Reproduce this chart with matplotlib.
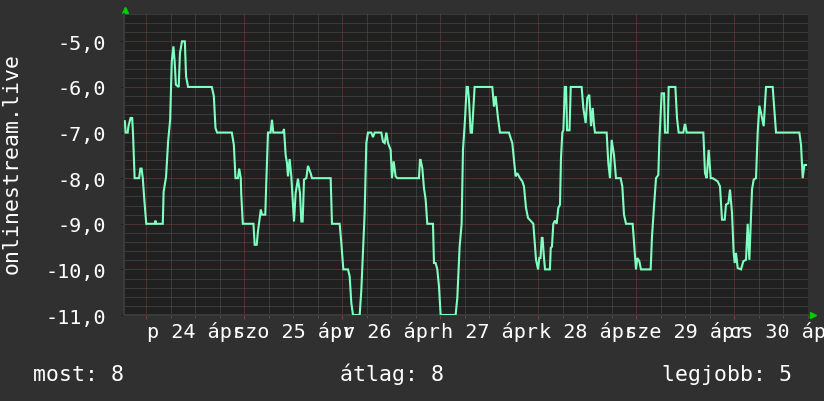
import matplotlib
matplotlib.use('Agg')
import matplotlib.pyplot as plt
import matplotlib.transforms as mtransforms
from matplotlib.ticker import MultipleLocator, FuncFormatter

# hours since apr 24 00:00 and the plotted value
times = [-5.3, -5.1, -4.6, -4.4, -3.9, -3.5, -3.3, -2.9, -1.8, -1.5, -1.2, -0.9, -0.5, -0.05,
         2.0, 2.2, 2.4, 4.0, 4.2, 4.8, 5.3, 5.8, 6.2, 6.6, 6.9, 7.2, 7.9, 8.2, 8.7, 9.4, 9.7,
         10.2, 16.0, 16.5, 16.9, 17.3, 20.9, 21.4, 21.8, 22.4, 22.7, 23.1, 23.2, 23.6, 26.2,
         26.5, 27.0,
         27.3, 27.7, 28.0, 28.3, 29.1, 29.35, 29.76, 30.4, 30.74, 31.06, 33.43, 33.68, 34.08,
         34.41, 34.66, 35.06, 35.47, 36.13, 36.53, 37.1, 37.6, 37.92, 38.25, 38.58, 39.15,
         39.55, 40.21, 40.53, 45.11, 45.43, 47.31, 47.72, 48.21, 49.35, 49.76, 50.17, 50.58,
         52.21, 52.62, 53.1, 53.43, 53.84, 54.25, 55.06, 55.47, 55.88, 57.51, 57.92, 58.33,
         58.74, 59.15, 59.8, 60.12, 60.53,
         61.02, 61.43, 66.73, 66.98, 67.14, 67.55, 67.96, 68.37, 68.77, 70.16, 70.41, 70.81,
         71.22, 71.63, 72.04, 75.71, 76.12, 76.69, 77.18, 77.51, 78.0, 78.41, 78.7, 78.98,
         79.38, 79.71, 80.36, 84.69, 85.1, 85.51, 86.08, 86.57, 88.77, 89.18, 89.59, 89.99,
         90.4, 90.81, 91.47, 92.04, 92.45, 92.94, 93.43,
         94.74, 95.4, 95.9, 96.2, 96.5, 96.8, 97.0, 97.35, 97.6, 98.8, 99.0, 99.3, 99.63,
         100.04, 100.45, 100.86, 101.27, 101.51, 101.84, 102.1, 102.45, 102.75, 103.0, 103.6,
         103.9, 106.57, 106.98, 107.55, 107.96, 108.45, 108.86, 109.27, 109.59, 109.84,
         112.69, 113.1, 113.51, 113.92, 114.49, 114.98, 116.12, 116.53, 116.94, 117.43,
         119.06, 119.47, 119.88, 120.2, 120.69, 121.1, 123.47, 123.8, 124.29, 124.78, 125.35,
         125.59, 126.16, 126.74, 126.98,
         127.64, 127.88, 129.52, 129.92, 130.33, 131.47, 131.8, 131.96, 132.29, 136.37,
         136.78, 137.19, 137.68, 138.17, 138.66, 139.88, 140.45, 140.94, 141.6, 141.92,
         142.5, 142.9, 143.39, 143.8, 144.05, 144.37, 144.78, 145.6, 146.17, 146.82, 147.23,
         147.64, 148.29, 148.7, 149.27, 149.68, 150.09, 150.5, 151.15, 151.72, 153.35,
         153.76, 154.17, 159.88, 160.29, 160.7, 161.11, 161.52]
values = [-6.75, -7.0, -7.0, -6.86, -6.68, -6.68, -7.0, -8.0, -8.0, -7.79, -7.79, -8.0, -8.5, -9.0,
          -9.0, -8.93, -9.0, -9.0, -8.3, -7.97, -7.2, -6.72, -5.44, -5.11, -5.44, -5.95, -6.0,
          -5.26, -5.0, -5.0, -5.77, -6.0, -6.0, -6.2, -6.9, -7.0, -7.0, -7.27, -8.0, -8.0,
          -7.79, -8.0, -8.33, -9.0, -9.0, -9.46, -9.46,
          -9.17, -8.9, -8.69, -8.8, -8.8, -8.07, -7.0, -7.0, -6.72, -7.0, -7.0, -6.92, -7.49,
          -7.67, -7.96, -7.58, -7.96, -8.95, -8.33, -8.01, -8.33, -8.95, -8.95, -8.03, -8.0,
          -7.73, -7.89, -8.0, -8.0, -9.0, -9.0, -9.42, -10.0, -10.0, -10.15, -10.74, -11.0,
          -11.0, -10.45, -9.42, -8.76, -7.23, -7.0, -7.0, -7.1, -7.0, -7.0, -7.2, -7.23,
          -7.0, -7.23, -7.38, -8.0, -7.63,
          -7.96, -8.0, -8.0, -7.6, -7.6, -7.78, -8.22, -8.47, -9.0, -9.0, -9.86, -9.86,
          -10.0, -10.37, -11.0, -11.0, -10.63, -9.5, -9.0, -7.38, -6.72, -6.0, -6.0, -6.28,
          -7.0, -7.0, -6.0, -6.0, -6.43, -6.2, -6.68, -7.0, -7.0, -7.12, -7.23, -7.6,
          -7.96, -7.89, -8.0, -8.07, -8.18, -8.65, -8.87,
          -9.0, -9.79, -10.0, -9.75, -9.75, -9.31, -9.31, -9.75, -10.0, -10.0, -9.53, -9.5, -9.0,
          -8.93, -9.0, -8.65, -8.58, -7.56, -7.0, -6.95, -6.0, -6.0, -6.95, -6.95,
          -6.0, -6.0, -6.46, -6.79, -6.24, -6.17, -6.86, -6.46, -6.83, -7.0,
          -7.0, -7.67, -8.0, -7.16, -7.49, -8.0, -8.0, -8.18, -8.8, -9.0,
          -9.0, -9.5, -10.0, -9.75, -9.82, -10.0, -10.0, -9.28, -8.62, -8.0, -7.93,
          -7.2, -6.14, -6.14, -7.0,
          -7.0, -6.0, -6.0, -6.68, -7.0, -7.0, -6.83, -6.83, -7.0, -7.0,
          -7.89, -8.0, -7.38, -8.0, -8.0, -8.07, -8.18, -8.91, -8.91, -8.58,
          -8.55, -8.25, -8.76, -9.64, -9.86, -9.64, -9.97, -10.0, -9.82, -9.79, -9.0,
          -9.79, -8.25, -8.03, -8.0, -7.0, -6.41, -6.57, -6.86, -6.0, -6.0,
          -6.5, -7.0, -7.0, -7.27, -8.0, -7.71, -7.71]

day_names = ['p', 'szo', 'v', 'h', 'k', 'sze', 'cs']
day_nums = [24, 25, 26, 27, 28, 29, 30]
month = 'ápr'
series_name = 'onlinestream.live'
legend_labels = ['most', 'átlag', 'legjobb']
legend_values = [8, 8, 5]

BG = '#303030'
CANVAS = '#202020'
MINOR = '#555555'
MAJOR = '#7a4040'
LINE = '#80ffc0'
ARROW = '#00cc00'
FONT = 'DejaVu Sans Mono'

plt.rcParams['font.family'] = FONT

fig = plt.figure(figsize=(8.24, 4.02), dpi=100, facecolor=BG)
ax = fig.add_axes([124/824, 86/402, 684/824, 301/402])
ax.set_facecolor(CANVAS)

ax.plot(times, values, color=LINE, lw=1.5, solid_joinstyle='miter', zorder=3)

ax.set_xlim(-5.5, 162.0)
ax.set_ylim(-11, -4.4)

ax.xaxis.set_major_locator(MultipleLocator(24))
ax.xaxis.set_minor_locator(MultipleLocator(6))
ax.yaxis.set_major_locator(MultipleLocator(1))
ax.yaxis.set_minor_locator(MultipleLocator(0.2))
ax.set_axisbelow(True)
ax.grid(which='minor', color=MINOR, linestyle=(0, (1, 1)), lw=0.72)
ax.grid(which='major', color=MAJOR, linestyle=(0, (1, 1)), lw=0.72)

ax.yaxis.set_major_formatter(FuncFormatter(lambda v, p: f'{v:.1f}'.replace('.', ',')))
ax.set_xticklabels([])
ax.tick_params(axis='y', which='major', length=2, color='#151515', pad=11,
               labelcolor='white', labelsize=14.5)
ax.tick_params(axis='y', which='minor', length=0)
ax.tick_params(axis='x', which='major', length=3, color=MAJOR)
ax.tick_params(axis='x', which='minor', length=2, color=MINOR)

for s in ['top', 'right']:
    ax.spines[s].set_visible(False)
for s in ['left', 'bottom']:
    ax.spines[s].set_color('#3a3a3a')
    ax.spines[s].set_linewidth(1.5)

# day labels at noon
for i, (d, n) in enumerate(zip(day_names, day_nums)):
    ax.text(12 + 24 * i, -0.073, f'{d} {n} {month}', transform=ax.get_xaxis_transform(),
            ha='center', va='baseline', color='white', fontsize=14.5, clip_on=False)

# green arrows at the axis ends
up = mtransforms.offset_copy(ax.transAxes, fig=fig, x=1, y=4.5, units='dots')
ax.plot([0], [1], marker='^', ms=4, color=ARROW, transform=up, clip_on=False)
right = mtransforms.offset_copy(ax.transAxes, fig=fig, x=5, y=0, units='dots')
ax.plot([1], [0], marker='>', ms=4, color=ARROW, transform=right, clip_on=False)

fig.text(12/824, 1 - 164/402, series_name, rotation=90, ha='center', va='center',
         color='white', fontsize=15.5)

fig.text(33/824, 1 - 381.5/402, f'{legend_labels[0]}: {legend_values[0]}', ha='left',
         va='baseline', color='white', fontsize=15.5)
fig.text(340/824, 1 - 381.5/402, f'{legend_labels[1]}: {legend_values[1]}', ha='left',
         va='baseline', color='white', fontsize=15.5)
fig.text(792/824, 1 - 381.5/402, f'{legend_labels[2]}: {legend_values[2]}', ha='right',
         va='baseline', color='white', fontsize=15.5)

fig.savefig('out.png', dpi=100, facecolor=BG)
